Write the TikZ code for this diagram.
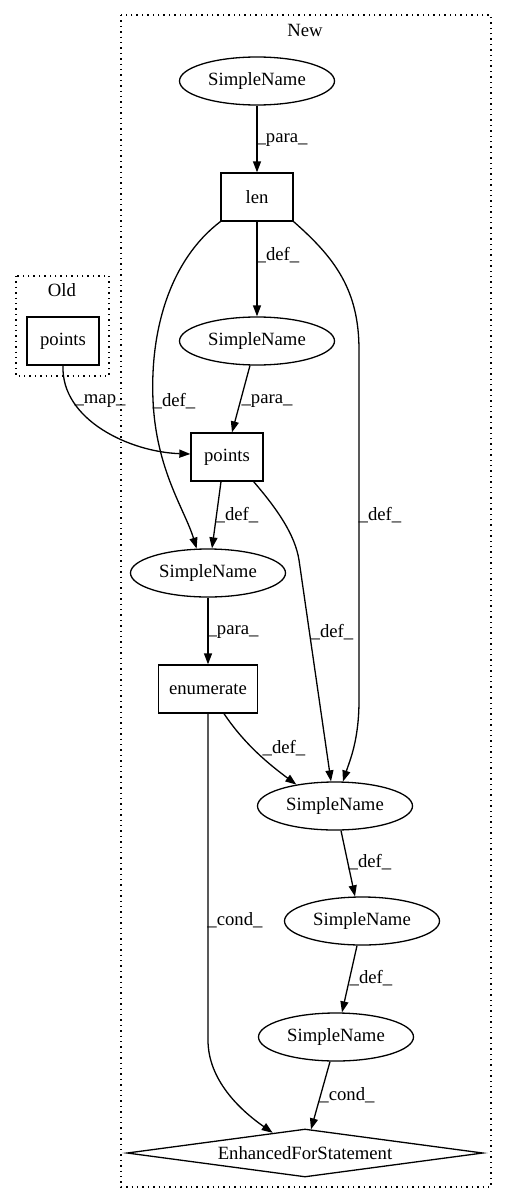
\documentclass[tikz,border=0pt]{standalone}
\usepackage{fontspec}
\setmainfont{Liberation Serif}
\usetikzlibrary{shapes.geometric,arrows.meta,calc}
\begin{document}
\begin{tikzpicture}[x=1pt,y=-1pt,
  every node/.style={font=\fontsize{18.7}{22}\selectfont},
  ell/.style={draw,ellipse,line width=1.3pt,minimum width=155pt,minimum height=48pt,inner sep=0pt},
  box/.style={draw,rectangle,line width=1.3pt,minimum width=72pt,minimum height=48pt,inner sep=0pt},
  dia/.style={draw,diamond,aspect=7.4,line width=1.3pt,minimum width=356pt,minimum height=48pt,inner sep=0pt},
  cluster/.style={draw,line width=1.3pt,dash pattern=on 1.4pt off 4pt},
  edge/.style={draw,line width=1.3pt,-{Triangle[length=11pt,width=8pt]}},
  lbl/.style={inner sep=0pt}
]
\useasboundingbox (0,0) rectangle (507,1204);
% clusters
\draw[cluster] (121,15) rectangle (491,1187);
\node[lbl] (newlbl) at (305,30) {New};
\draw[cluster] (16,276) rectangle (109,376);
\node[lbl] (oldlbl) at (62,290) {Old};
% nodes
\node[ell] (sn1) at (257,81) {SimpleName};
\node[box] (len) at (257,197) {len};
\node[ell] (sn2) at (257,341) {SimpleName};
\node[box] (oldpts) at (63,341) {points};
\node[box] (pts) at (227,457) {points};
\node[ell] (sn3) at (208,573) {SimpleName};
\node[box,minimum width=99pt] (enum) at (208,689) {enumerate};
\node[ell] (sn4) at (335,806) {SimpleName};
\node[ell] (sn5) at (362,921) {SimpleName};
\node[ell] (sn6) at (336,1037) {SimpleName};
\node[dia] (efs) at (305,1153) {EnhancedForStatement};
% edges
\draw[edge] (sn1) -- (len);
\draw[edge] (len) -- (sn2);
\draw[edge] (len.south west) .. controls (170,260) and (150,330) .. (153,400) .. controls (156,470) and (185,510) .. (sn3.115);
\draw[edge] (len.south east) .. controls (335,258) and (359,290) .. (359,350) -- (359,700) .. controls (359,740) and (350,760) .. (sn4.72);
\draw[edge] (sn2.-106) -- ($(pts.north)+(5,0)$);
\draw[edge] (oldpts.south) .. controls (61,420) and (130,452) .. ($(pts.west)+(0,-3)$);
\draw[edge] ($(pts.south)+(-6,0)$) -- ($(sn3.north)+(4,0)$);
\draw[edge] ($(pts.south east)+(-10,0)$) .. controls (278,510) and (295,535) .. (299,560) -- ($(sn4.north)+(-4,0)$);
\draw[edge] (sn3) -- (enum);
\draw[edge] ($(enum.south)+(16,0)$) .. controls (245,745) and (270,765) .. (sn4.151);
\draw[edge] (enum.south) -- (208,1040) .. controls (208,1080) and (240,1110) .. (efs.148);
\draw[edge] ($(sn4.south)+(6,0)$) -- ($(sn5.north)+(-7,0)$);
\draw[edge] ($(sn5.south)+(-5,0)$) -- ($(sn6.north)+(6,0)$);
\draw[edge] ($(sn6.south)+(-6,0)$) -- ($(efs.north)+(6,1)$);
% labels
\node[lbl] (l1) at (282,140) {\_para\_};
\node[lbl] (l2) at (278,255) {\_def\_};
\node[lbl] (l3) at (174,401) {\_def\_};
\node[lbl] (l4) at (380,515) {\_def\_};
\node[lbl] (l5) at (267,401) {\_para\_};
\node[lbl] (l6) at (100,401) {\_map\_};
\node[lbl] (l7) at (237,515) {\_def\_};
\node[lbl] (l8) at (332,632) {\_def\_};
\node[lbl] (l9) at (233,632) {\_para\_};
\node[lbl] (l10) at (284,748) {\_def\_};
\node[lbl] (l11) at (235,920) {\_cond\_};
\node[lbl] (l12) at (370,862) {\_def\_};
\node[lbl] (l13) at (371,978) {\_def\_};
\node[lbl] (l14) at (347,1095) {\_cond\_};
\end{tikzpicture}
\end{document}
